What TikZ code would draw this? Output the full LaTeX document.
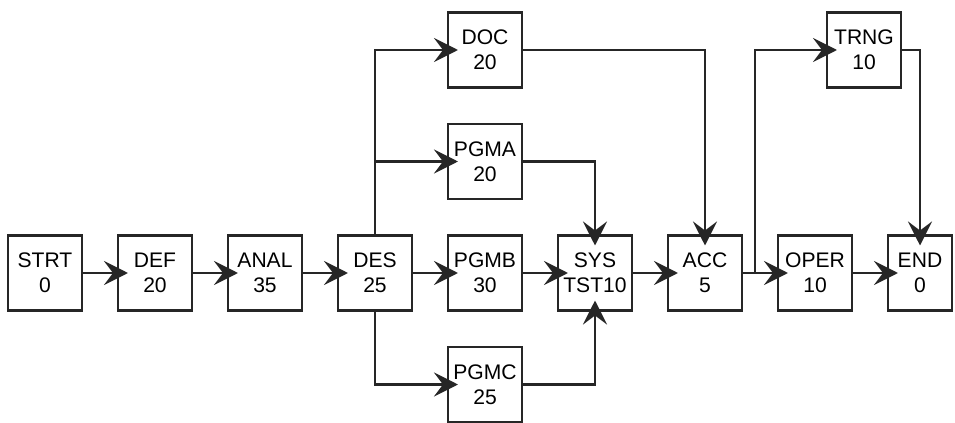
\documentclass[tikz,border=0pt]{standalone}
\usepackage{fontspec}
\setmainfont{Liberation Sans}
\usetikzlibrary{arrows.meta, positioning}

\begin{document}
\begin{tikzpicture}[
  node distance=0.73cm and 0.72cm,
  every node/.style={font=\fontsize{12}{14.5}\selectfont, align=center},
  box/.style={rectangle, draw=black!85, line width=1.7pt, fill=white, outer sep=0pt,
              minimum height=1.5cm, minimum width=1.48cm, inner sep=1pt},
  arr/.style={-{Stealth[length=0.48cm, width=0.48cm, inset=0.18cm]},
              line width=1.7pt, color=black!85, shorten >=-0.2cm}
]
  \useasboundingbox (0,0) rectangle (19.1,-8.46);

  % main row
  \node[box] (strt) at (0.9,-5.46) {STRT\\0};
  \node[box, right=of strt] (def) {DEF\\20};
  \node[box, right=of def] (anal) {ANAL\\35};
  \node[box, right=of anal] (des) {DES\\25};
  \node[box, right=of des] (pgmb) {PGMB\\30};
  \node[box, right=of pgmb] (sys) {SYS\\TST10};
  \node[box, right=of sys] (acc) {ACC\\5};
  \node[box, right=of acc] (oper) {OPER\\10};
  \node[box, right=of oper, minimum width=1.28cm] (end) {END\\0};

  % parallel branches
  \node[box, above=of pgmb] (pgma) {PGMA\\20};
  \node[box, above=of pgma] (doc) {DOC\\20};
  \node[box, below=of pgmb] (pgmc) {PGMC\\25};
  \node[box, right=6.1cm of doc] (trng) {TRNG\\10};

  \coordinate[right=0.26cm of acc.east] (split);

  \draw[arr] (strt) -- (def);
  \draw[arr] (def) -- (anal);
  \draw[arr] (anal) -- (des);
  \draw[arr] (des) -- (pgmb);
  \draw[arr] (des.north) |- (doc);
  \draw[arr] (des.north) |- (pgma);
  \draw[arr] (des.south) |- (pgmc);
  \draw[arr] (pgmb) -- (sys);
  \draw[arr] (pgma) -| (sys);
  \draw[arr] (pgmc) -| (sys);
  \draw[arr] (sys) -- (acc);
  \draw[arr] (doc) -| (acc);
  \draw[arr] (acc) -- (oper);
  \draw[arr] (split) |- (trng);
  \draw[arr] (oper) -- (end);
  \draw[arr] (trng) -| (end);
\end{tikzpicture}
\end{document}
